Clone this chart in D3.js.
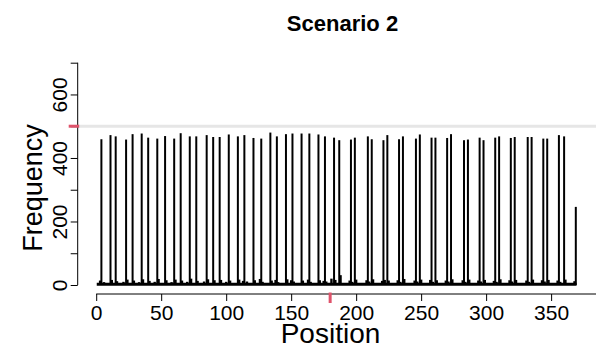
<!DOCTYPE html>
<html>
<head>
<meta charset="utf-8">
<script src="https://cdn.jsdelivr.net/npm/d3@7/dist/d3.min.js"></script>
<style>
body { margin: 0; background: #fff; }
svg text { font-family: "Liberation Sans", Arial, sans-serif; fill: #000; }
</style>
</head>
<body>
<script>
// Tall peaks: position and frequency
var spikePos = [4, 11, 15, 23, 28, 35, 40, 47, 53, 60, 65, 72, 77, 85, 90,
    95, 102, 109, 114, 121, 127, 134, 139, 146, 151, 158, 164, 171, 176,
    183, 187, 196, 199, 209, 212, 221, 224, 233, 236, 246, 249, 258, 261, 270, 273,
    283, 286, 295, 298, 307, 310, 319, 322, 332, 335, 344, 347, 356, 360, 369];
var spikeCount = [459, 472, 468, 458, 475, 477, 464, 461, 469, 461, 478, 468, 468, 472, 466,
    466, 474, 468, 472, 463, 461, 480, 468, 475, 477, 477, 477, 474, 468,
    464, 456, 458, 464, 468, 459, 456, 472, 459, 468, 461, 474, 464, 464, 463, 475,
    456, 458, 464, 456, 464, 468, 463, 466, 466, 466, 461, 461, 472, 468, 246];

// Small counts around the base of the peaks
var lowPos = [3, 6, 12, 16, 21, 24, 29, 33, 36, 41, 45, 48, 54, 58, 61, 66, 70, 73, 78, 83,
    86, 91, 96, 100, 103, 110, 113, 116, 122, 126, 128, 135, 138, 140, 147, 150, 152, 159,
    163, 165, 172, 175, 177, 181, 184, 188, 195, 197, 200, 208, 210, 213, 220, 222, 225,
    232, 234, 237, 245, 247, 250, 257, 259, 262, 269, 271, 274, 282, 284, 287, 294, 296,
    299, 306, 308, 311, 318, 320, 323, 331, 333, 336, 343, 345, 348, 355, 357, 361, 368];
var lowCount = [14, 9, 16, 12, 10, 17, 14, 9, 18, 13, 10, 19, 15, 9, 17, 14, 10, 20, 13, 11,
    18, 15, 16, 10, 14, 17, 13, 11, 15, 19, 10, 14, 16, 9, 18, 15, 11, 14,
    17, 10, 15, 13, 11, 20, 16, 31, 14, 10, 17, 15, 11, 18, 13, 16, 14,
    15, 10, 19, 14, 11, 17, 16, 10, 15, 14, 11, 18, 15, 10, 17, 14, 11,
    16, 13, 10, 18, 15, 11, 16, 14, 10, 17, 15, 11, 16, 14, 10, 17, 12];
var floorCount = 5;
var floorRange = [1, 369];

var xTicks = [0, 50, 100, 150, 200, 250, 300, 350, 400];
var xLabels = [0, 50, 100, 150, 200, 250, 300, 350];
var yTicks = [0, 100, 200, 300, 400, 500, 600, 700];
var yLabels = [0, 200, 400, 600];
var refCount = 500;
var refPos = 180;

var W = 596, H = 350;
var red = "#DF536B";

var x = d3.scaleLinear().domain([-14, 393]).range([78, 607]);
var y = d3.scaleLinear().domain([0, 700]).range([285, 62.7]);
var axisX = 77.7, axisY = 294;

var svg = d3.select("body").append("svg")
    .attr("width", W)
    .attr("height", H);

// reference line at 500
svg.append("line")
    .attr("x1", x.range()[0]).attr("x2", x.range()[1])
    .attr("y1", y(refCount)).attr("y2", y(refCount))
    .attr("stroke", "#e6e6e6")
    .attr("stroke-width", 3);

// base band
svg.append("path")
    .datum(floorRange)
    .attr("d", d3.area().x(function (d) { return x(d); }).y0(y(0)).y1(y(floorCount)))
    .attr("fill", "#000")
    .attr("stroke", "#000")
    .attr("stroke-width", 1.5);

svg.append("g").selectAll("line")
    .data(lowPos)
    .enter().append("line")
    .attr("x1", function (d) { return x(d); })
    .attr("x2", function (d) { return x(d); })
    .attr("y1", y(0))
    .attr("y2", function (d, i) { return y(lowCount[i]); })
    .attr("stroke", "#000")
    .attr("stroke-width", 2.4);

// peaks
svg.append("g").selectAll("line")
    .data(spikePos)
    .enter().append("line")
    .attr("x1", function (d) { return x(d); })
    .attr("x2", function (d) { return x(d); })
    .attr("y1", y(0))
    .attr("y2", function (d, i) { return y(spikeCount[i]); })
    .attr("stroke", "#000")
    .attr("stroke-width", 2);

// x axis
var gx = svg.append("g")
    .attr("transform", "translate(0," + axisY + ")")
    .call(d3.axisBottom(x).tickValues(xTicks).tickSize(7).tickSizeOuter(0)
        .tickFormat(function (d) { return xLabels.indexOf(d) >= 0 ? d : ""; }));
gx.select(".domain").remove();
gx.append("line")
    .attr("x1", x(xTicks[0])).attr("x2", x(xTicks[xTicks.length - 1]))
    .attr("stroke", "#000");
gx.selectAll(".tick line").attr("stroke", "#000");
gx.selectAll(".tick text")
    .attr("y", 26).attr("dy", null)
    .style("font-size", "21px")
    .style("font-family", "'Liberation Sans', Arial, sans-serif");

// y axis
var gy = svg.append("g")
    .attr("transform", "translate(" + axisX + ",0)")
    .call(d3.axisLeft(y).tickValues(yTicks).tickSize(7).tickSizeOuter(0)
        .tickFormat(function (d) { return yLabels.indexOf(d) >= 0 ? d : ""; }));
gy.select(".domain").remove();
gy.append("line")
    .attr("y1", y(yTicks[0])).attr("y2", y(yTicks[yTicks.length - 1]))
    .attr("stroke", "#000");
gy.selectAll(".tick line").attr("stroke", "#000");
gy.selectAll(".tick text")
    .attr("transform", "rotate(-90)")
    .attr("x", 0).attr("y", -11).attr("dy", null)
    .style("text-anchor", "middle")
    .style("font-size", "21px")
    .style("font-family", "'Liberation Sans', Arial, sans-serif");

// red marks on the axes
svg.append("line")
    .attr("x1", axisX - 9).attr("x2", axisX + 1.5)
    .attr("y1", y(refCount)).attr("y2", y(refCount))
    .attr("stroke", red).attr("stroke-width", 3);
svg.append("line")
    .attr("x1", x(refPos)).attr("x2", x(refPos))
    .attr("y1", axisY - 1.5).attr("y2", axisY + 9)
    .attr("stroke", red).attr("stroke-width", 3);

// titles
var midX = (x.range()[0] + x.range()[1]) / 2;
svg.append("text")
    .attr("x", midX).attr("y", 31)
    .attr("text-anchor", "middle")
    .style("font-size", "22px").style("font-weight", "bold")
    .text("Scenario 2");

svg.append("text")
    .attr("x", midX - 12).attr("y", 343)
    .attr("text-anchor", "middle")
    .style("font-size", "28px")
    .text("Position");

svg.append("text")
    .attr("transform", "translate(42,188) rotate(-90)")
    .attr("text-anchor", "middle")
    .style("font-size", "27px")
    .text("Frequency");
</script>
</body>
</html>
